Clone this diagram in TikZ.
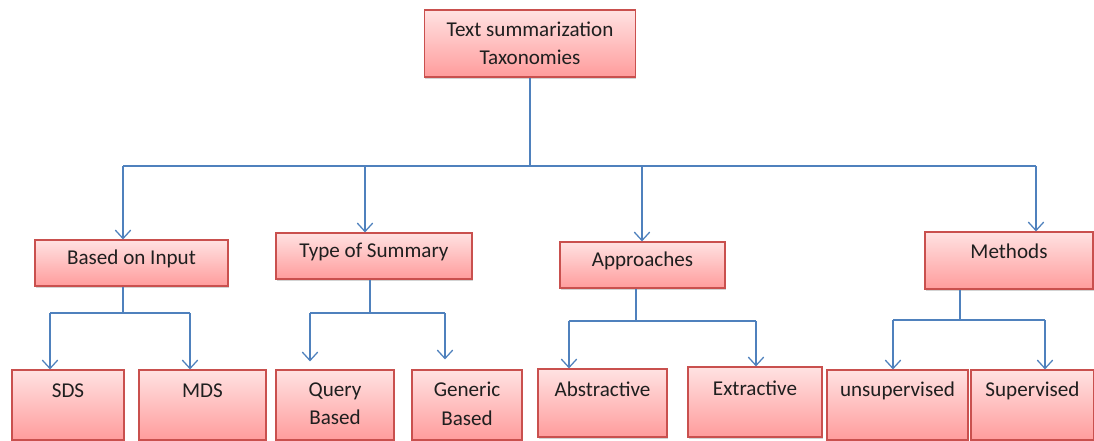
\documentclass[tikz,border=0pt]{standalone}
\usepackage{fontspec}
\setmainfont{Carlito}
\usetikzlibrary{positioning,shadows,arrows.meta}
\definecolor{boxtop}{HTML}{FFE2E2}
\definecolor{boxbot}{HTML}{FF9C9C}
\definecolor{boxline}{HTML}{C9504E}
\definecolor{linkblue}{HTML}{4F81BD}
\definecolor{inkgray}{HTML}{1F1F1F}
\tikzset{
	box/.style 2 args={draw=boxline, line width=0.8pt, top color=boxtop, bottom color=boxbot,
		minimum width=#1*0.025cm, minimum height=#2*0.025cm, inner sep=0pt,
		drop shadow={shadow xshift=0.7pt, shadow yshift=-1.2pt, opacity=0.35}},
	lbl/.style={anchor=center, align=center, font=\fontsize{15}{20}\selectfont, text=inkgray},
	link/.style={draw=linkblue, line width=0.9pt},
	arr/.style={link, -{Straight Barb[length=6pt,width=11pt]}},
}

\begin{document}
\begin{tikzpicture}[x=0.025cm, y=-0.025cm]
	\useasboundingbox (0,0) rectangle (1094,441);
	% root
	\node[box={211}{67}, align=center, font=\fontsize{15}{20}\selectfont, text=inkgray] (root) at (530,43.5) {Text summarization\\Taxonomies};
	% first level
	\node[box={193}{46}, label={[lbl,yshift=-0.48cm]north:Based on Input}] (input) at (131.5,263) {};
	\node[box={196}{46}, label={[lbl,yshift=-0.48cm]north:Type of Summary}] (type) at (374,256) {};
	\node[box={165}{46}, label={[lbl,yshift=-0.48cm]north:Approaches}] (appr) at (642.5,265) {};
	\node[box={168}{57}, label={[lbl,yshift=-0.5cm]north:Methods}] (meth) at (1009,260.5) {};
	% second level
	\node[box={112}{70}, label={[lbl,yshift=-0.54cm]north:SDS}] (sds) at (68,405) {};
	\node[box={127}{70}, label={[lbl,yshift=-0.54cm]north:MDS}] (mds) at (202.5,405) {};
	\node[box={118}{70}, label={[lbl,yshift=-0.86cm]north:Query\\Based}] (query) at (335,405) {};
	\node[box={110}{70}, label={[lbl,yshift=-0.86cm]north:Generic\\Based}] (generic) at (467,405) {};
	\node[box={129}{68}, label={[lbl,yshift=-0.52cm]north:Abstractive}] (abs) at (602.5,403) {};
	\node[box={134}{70}, label={[lbl,yshift=-0.54cm]north:Extractive}] (ext) at (755,402) {};
	\node[box={141}{70}, label={[lbl,yshift=-0.54cm]north:unsupervised}] (unsup) at (897.5,405) {};
	\node[box={123}{70}, label={[lbl,yshift=-0.54cm]north:Supervised}] (sup) at (1032.5,405) {};
	% bus
	\coordinate (hub) at (530,166);
	\coordinate (b1) at (123,166);
	\coordinate (b2) at (365,166);
	\coordinate (b3) at (642,166);
	\coordinate (b4) at (1036,166);
	\draw[link] (root.south) -- (hub);
	\draw[link] (b1) -- (b4);
	\draw[arr] (b1) -- (b1 |- input.north);
	\draw[arr] (b2) -- (b2 |- type.north);
	\draw[arr] (b3) -- (b3 |- appr.north);
	\draw[arr] (b4) -- (b4 |- meth.north);
	% input
	\coordinate (j1) at (123,313);
	\coordinate (s1) at (50,313);
	\coordinate (m1) at (190,313);
	\draw[link] (j1 |- input.south) -- (j1);
	\draw[link] (s1) -- (m1);
	\draw[arr] (s1) -- (s1 |- sds.north);
	\draw[arr] (m1) -- (m1 |- mds.north);
	% type
	\coordinate (j2) at (370,313);
	\coordinate (q1) at (310,313);
	\coordinate (g1) at (445,313);
	\draw[link] (j2 |- type.south) -- (j2);
	\draw[link] (q1) -- (g1);
	\draw[arr, shorten >=0.2cm] (q1) -- (q1 |- query.north);
	\draw[arr, shorten >=0.25cm] (g1) -- (g1 |- generic.north);
	% approaches
	\coordinate (j3) at (636,321);
	\coordinate (a1) at (569,321);
	\coordinate (e1) at (756,321);
	\draw[link] (j3 |- appr.south) -- (j3);
	\draw[link] (a1) -- (e1);
	\draw[arr] (a1) -- (a1 |- abs.north);
	\draw[arr] (e1) -- (e1 |- ext.north);
	% methods
	\coordinate (j4) at (960,320);
	\coordinate (u1) at (893,320);
	\coordinate (p1) at (1045,320);
	\draw[link] (j4 |- meth.south) -- (j4);
	\draw[link] (u1) -- (p1);
	\draw[arr] (u1) -- (u1 |- unsup.north);
	\draw[arr] (p1) -- (p1 |- sup.north);
\end{tikzpicture}
\end{document}
